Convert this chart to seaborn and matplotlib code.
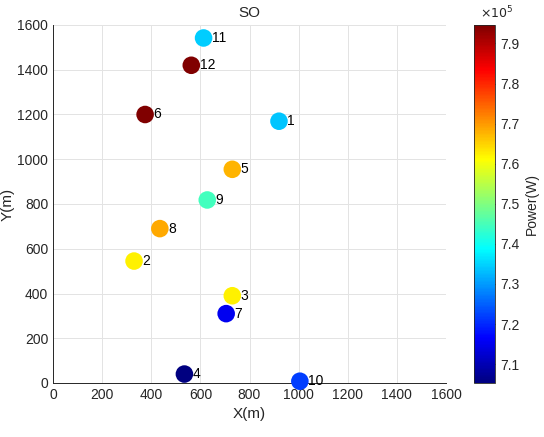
import numpy as np
import pandas as pd
import matplotlib
matplotlib.use("Agg")
import matplotlib.pyplot as plt
import seaborn as sns

# Node positions (m), transmit power (W) and node ids
node_id = [1, 2, 3, 4, 5, 6, 7, 8, 9, 10, 11, 12]
x_m = [920, 330, 730, 535, 730, 375, 705, 435, 628, 1005, 613, 563]
y_m = [1170, 545, 390, 40, 955, 1200, 310, 690, 818, 8, 1542, 1420]
power_w = [7.339e5, 7.625e5, 7.625e5, 7.053e5, 7.674e5, 7.946e5,
           7.151e5, 7.685e5, 7.444e5, 7.217e5, 7.345e5, 7.946e5]

xticks = [0, 200, 400, 600, 800, 1000, 1200, 1400, 1600]
yticks = [0, 200, 400, 600, 800, 1000, 1200, 1400, 1600]
cticks = [7.1e5, 7.2e5, 7.3e5, 7.4e5, 7.5e5, 7.6e5, 7.7e5, 7.8e5, 7.9e5]

df = pd.DataFrame({"id": node_id, "x": x_m, "y": y_m, "power": power_w})

sns.set_style("white")
plt.rcParams["font.family"] = ["Liberation Sans", "DejaVu Sans"]
text_c = "#262626"

# Classic jet: dark blue -> blue -> cyan -> yellow -> red -> dark red
cmap = matplotlib.colors.LinearSegmentedColormap.from_list(
    "jet_classic",
    [(0.0, (0.0, 0.0, 0.5)), (0.125, (0.0, 0.0, 1.0)),
     (0.375, (0.0, 1.0, 1.0)), (0.625, (1.0, 1.0, 0.0)),
     (0.875, (1.0, 0.0, 0.0)), (1.0, (0.5, 0.0, 0.0))], N=256)

fig = plt.figure(figsize=(5.44, 4.37), dpi=100)
ax = fig.add_axes([53 / 544, 1 - 383 / 437, 393 / 544, 358 / 437])
cax = fig.add_axes([474 / 544, 1 - 383 / 437, 21 / 544, 358 / 437])

vmin, vmax = min(power_w), max(power_w)
norm = matplotlib.colors.Normalize(vmin=vmin, vmax=vmax)

sns.scatterplot(data=df, x="x", y="y", hue="power", palette=cmap,
                hue_norm=norm, s=160, edgecolor="none", legend=False,
                ax=ax, zorder=3, clip_on=False)

for i, xv, yv in zip(node_id, x_m, y_m):
    ax.annotate(str(i), (xv, yv), xytext=(6, 0), textcoords="offset points",
                ha="left", va="center", fontsize=10, color="black", zorder=4)

ax.set_xlim(0, 1600)
ax.set_ylim(0, 1600)
ax.set_xticks(xticks)
ax.set_yticks(yticks)
ax.grid(True, color="#e3e3e3", linewidth=0.7)
ax.set_axisbelow(True)
for side in ["top", "right"]:
    ax.spines[side].set_visible(False)
for side in ["left", "bottom"]:
    ax.spines[side].set_color(text_c)
    ax.spines[side].set_linewidth(0.7)
ax.tick_params(direction="in", length=3, width=0.6, colors=text_c,
               labelsize=10, labelcolor=text_c)
ax.set_xlabel("X(m)", fontsize=11, color=text_c)
ax.set_ylabel("Y(m)", fontsize=11, color=text_c, labelpad=2)
ax.set_title("SO", fontsize=11, color=text_c, pad=6)

sm = matplotlib.cm.ScalarMappable(norm=norm, cmap=cmap)
cb = fig.colorbar(sm, cax=cax)
cb.set_ticks(cticks)
cb.ax.yaxis.set_major_formatter(
    matplotlib.ticker.FuncFormatter(lambda v, p: f"{v / 1e5:.1f}"))
cb.ax.tick_params(direction="in", length=3, width=0.6, colors=text_c,
                  labelsize=10, labelcolor=text_c)
cb.outline.set_edgecolor(text_c)
cb.outline.set_linewidth(0.6)
cb.set_label("Power(W)", fontsize=10, color=text_c, labelpad=4)
fig.text(480 / 544, 1 - 13 / 437, r"$\times10^5$", fontsize=9,
         color=text_c, ha="left", va="center")

fig.savefig("out.png", dpi=100)
